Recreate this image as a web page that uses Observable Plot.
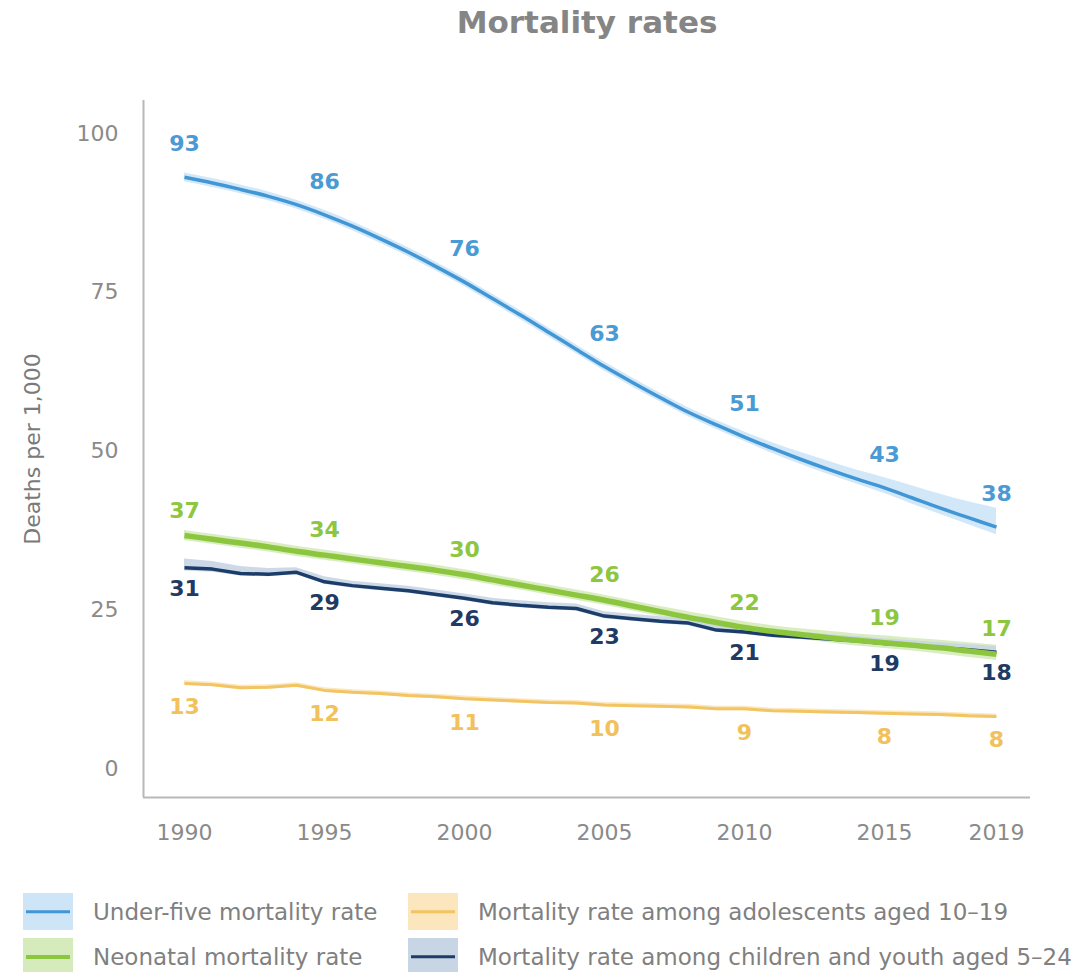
<!DOCTYPE html>
<html>
<head>
<meta charset="utf-8">
<script src="https://cdn.jsdelivr.net/npm/d3@7"></script>
<script src="https://cdn.jsdelivr.net/npm/@observablehq/plot@0.6"></script>
<style>
  html, body { margin: 0; padding: 0; background: #fff; }
  #wrap { position: relative; width: 1081px; height: 972px; overflow: hidden; font-family: "DejaVu Sans", sans-serif; }
  #title { position: absolute; left: 587px; top: 22px; transform: translate(-50%, -50%); font-weight: bold; font-size: 31px; color: #858585; white-space: nowrap; }
  #chart { position: absolute; left: 0; top: 60px; }
  .item { position: absolute; height: 37px; display: flex; align-items: center; white-space: nowrap; font-size: 23px; color: #808080; }
  .sw { position: relative; width: 50px; height: 37px; margin-right: 20px; }
  .sw i { position: absolute; left: 3px; right: 3px; top: 50%; transform: translateY(-50%); }
</style>
</head>
<body>
<div id="wrap">
  <div id="title">Mortality rates</div>
  <div id="chart"></div>
  <div id="legend"></div>
</div>
<script>
// ---- Data ----
const years = [1990,1991,1992,1993,1994,1995,1996,1997,1998,1999,2000,2001,2002,2003,2004,2005,2006,2007,2008,2009,2010,2011,2012,2013,2014,2015,2016,2017,2018,2019];

const underFive   = [93.1,92.2,91.2,90.1,88.8,87.2,85.4,83.4,81.3,79.0,76.6,74.0,71.4,68.7,66.0,63.3,60.8,58.4,56.1,54.1,52.2,50.4,48.7,47.1,45.6,44.2,42.6,41.0,39.5,38.0];
const underFiveHi = [93.8,92.9,91.9,90.8,89.5,87.9,86.1,84.1,82.0,79.7,77.3,74.7,72.1,69.4,66.7,64.0,61.5,59.1,56.8,54.8,53.0,51.3,49.8,48.4,47.0,45.8,44.5,43.2,42.0,41.0];
const underFiveLo = [92.4,91.5,90.5,89.4,88.1,86.5,84.7,82.7,80.6,78.3,75.9,73.3,70.7,68.0,65.3,62.6,60.1,57.7,55.4,53.4,51.5,49.6,47.9,46.3,44.8,43.3,41.6,40.0,38.4,36.8];

const neonatal    = [36.7,36.1,35.5,34.9,34.2,33.6,33.0,32.4,31.8,31.2,30.5,29.7,28.9,28.1,27.3,26.5,25.6,24.7,23.8,23.0,22.2,21.6,21.1,20.6,20.2,19.8,19.4,19.0,18.5,18.0];
const neonatalHi  = [37.5,36.9,36.3,35.7,35.0,34.4,33.8,33.2,32.6,32.0,31.3,30.5,29.7,28.9,28.1,27.3,26.4,25.5,24.7,23.9,23.1,22.5,22.0,21.6,21.2,20.9,20.5,20.2,19.8,19.4];
const neonatalLo  = [35.9,35.3,34.7,34.1,33.4,32.8,32.2,31.6,31.0,30.4,29.7,28.9,28.1,27.3,26.5,25.7,24.8,23.9,23.0,22.2,21.4,20.8,20.3,19.8,19.3,18.9,18.5,18.0,17.5,17.0];

const youth       = [31.6,31.4,30.7,30.6,30.9,29.4,28.8,28.4,28.0,27.4,26.8,26.1,25.7,25.4,25.2,24.0,23.6,23.2,22.9,21.8,21.5,21.0,20.7,20.4,20.1,19.7,19.4,19.0,18.7,18.3];
const youthHi     = [33.0,32.6,31.8,31.5,31.6,30.2,29.5,29.1,28.7,28.1,27.5,26.8,26.4,26.1,25.9,24.7,24.3,23.9,23.6,22.5,22.2,21.7,21.4,21.1,20.8,20.4,20.1,19.8,19.5,19.2];
const youthLo     = [31.1,30.9,30.3,30.2,30.5,29.0,28.4,28.0,27.6,27.0,26.4,25.7,25.3,25.0,24.8,23.6,23.2,22.8,22.5,21.4,21.1,20.6,20.3,20.0,19.7,19.3,19.0,18.6,18.2,17.8];

const adolescent   = [13.4,13.2,12.7,12.8,13.1,12.3,12.0,11.8,11.5,11.3,11.0,10.8,10.6,10.4,10.3,10.0,9.9,9.8,9.7,9.4,9.4,9.1,9.0,8.9,8.8,8.7,8.6,8.5,8.3,8.2];
const adolescentHi = [13.8,13.6,13.1,13.2,13.5,12.7,12.4,12.2,11.9,11.7,11.4,11.2,11.0,10.8,10.7,10.4,10.3,10.2,10.1,9.8,9.8,9.5,9.4,9.3,9.2,9.1,9.0,8.9,8.7,8.6];
const adolescentLo = [13.1,12.9,12.4,12.5,12.8,12.0,11.7,11.5,11.2,11.0,10.7,10.5,10.3,10.1,10.0,9.7,9.6,9.5,9.4,9.1,9.1,8.8,8.7,8.6,8.5,8.4,8.3,8.2,8.0,7.9];

const labelYears      = [1990,1995,2000,2005,2010,2015,2019];
const underFiveLabels = [93,86,76,63,51,43,38];
const neonatalLabels  = [37,34,30,26,22,19,17];
const youthLabels     = [31,29,26,23,21,19,18];
const adolescentLabels= [13,12,11,10,9,8,8];

const xTicks = [1990,1995,2000,2005,2010,2015,2019];
const yTicks = [0,25,50,75,100];

const series = [
  {name: "Under-five mortality rate", v: underFive, hi: underFiveHi, lo: underFiveLo, labels: underFiveLabels,
   line: "#4197d6", band: "#cde5f7", text: "#4a9ad4", sw: 3.5, dy: -33, curve: "monotone-x"},
  {name: "Neonatal mortality rate", v: neonatal, hi: neonatalHi, lo: neonatalLo, labels: neonatalLabels,
   line: "#8cc63e", band: "#d6ebbb", text: "#8dc63f", sw: 5.5, dy: -25, curve: "monotone-x"},
  {name: "Mortality rate among adolescents aged 10\u201319", v: adolescent, hi: adolescentHi, lo: adolescentLo, labels: adolescentLabels,
   line: "#f2c462", band: "#fbe6bd", text: "#f1c15c", sw: 3, dy: 24, curve: "linear"},
  {name: "Mortality rate among children and youth aged 5\u201324", v: youth, hi: youthHi, lo: youthLo, labels: youthLabels,
   line: "#1c3c6a", band: "#c8d5e4", text: "#1f3a63", sw: 3.5, dy: 21, curve: "linear"}
];

// ---- Build tables ----
const rows = s => years.map((y, i) => ({year: y, v: s.v[i], hi: s.hi[i], lo: s.lo[i]}));
const labelRows = s => labelYears.map((y, i) => ({year: y, v: s.v[years.indexOf(y)], label: String(s.labels[i])}));

const xDomain = [1988.536, 2020.214];
const yDomain = [-4.567, 105.2];

const marks = [];
for (const s of series) {
  marks.push(Plot.areaY(rows(s), {x: "year", y1: "lo", y2: "hi", fill: s.band, fillOpacity: 0.9, curve: s.curve}));
}
for (const s of [series[2], series[3], series[1], series[0]]) {
  marks.push(Plot.lineY(rows(s), {x: "year", y: "v", stroke: s.line, strokeWidth: s.sw, curve: s.curve, strokeLinejoin: "round", strokeLinecap: "butt"}));
}
for (const s of series) {
  marks.push(Plot.text(labelRows(s), {x: "year", y: "v", text: "label", dy: s.dy, fill: s.text, fontWeight: "bold", fontSize: 22, textAnchor: "middle", lineAnchor: "middle"}));
}

const chart = Plot.plot({
  width: 1081,
  height: 820,
  marginLeft: 143,
  marginRight: 51,
  marginTop: 40,
  marginBottom: 83,
  style: {fontFamily: "DejaVu Sans, sans-serif", color: "#8a8a8a", background: "#fff", overflow: "visible"},
  x: {domain: xDomain},
  y: {domain: yDomain},
  marks: [
    ...marks,
    Plot.ruleX([xDomain[0]], {stroke: "#b8b8b8", strokeWidth: 2}),
    Plot.ruleY([yDomain[0]], {stroke: "#b8b8b8", strokeWidth: 2}),
    Plot.axisX(xTicks, {tickSize: 0, tickPadding: 27, fontSize: 22, tickFormat: d => String(d), label: null}),
    Plot.axisY(yTicks, {tickSize: 0, tickPadding: 25, fontSize: 22, label: null}),
    Plot.text(["Deaths per 1,000"], {frameAnchor: "left", dx: -111, rotate: -90, fontSize: 22, fill: "#7a7a7a", textAnchor: "middle", lineAnchor: "middle"})
  ]
});
document.getElementById("chart").appendChild(chart);

// ---- Legend ----
const legend = document.getElementById("legend");
const legendPos = [
  {s: series[0], left: 23, top: 893},
  {s: series[2], left: 408, top: 893},
  {s: series[1], left: 23, top: 938},
  {s: series[3], left: 408, top: 938}
];
for (const p of legendPos) {
  const item = document.createElement("div");
  item.className = "item";
  item.style.left = p.left + "px";
  item.style.top = p.top + "px";
  const sw = document.createElement("div");
  sw.className = "sw";
  sw.style.background = p.s.band;
  const ln = document.createElement("i");
  ln.style.height = (p.s.sw > 4 ? 4 : 3.5) + "px";
  ln.style.background = p.s.line;
  sw.appendChild(ln);
  const tx = document.createElement("span");
  tx.textContent = p.s.name;
  item.appendChild(sw);
  item.appendChild(tx);
  legend.appendChild(item);
}
</script>
</body>
</html>
